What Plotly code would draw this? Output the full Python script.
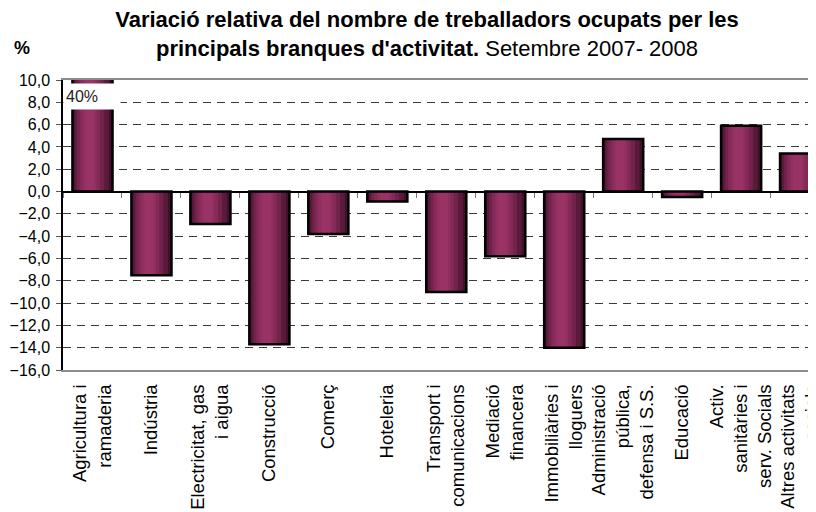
import plotly.graph_objects as go

# categories and values (% change, Sept 2007 - 2008)
branques = [
    "Agricultura i<br>ramaderia", "Indústria", "Electricitat, gas<br>i aigua",
    "Construcció", "Comerç", "Hoteleria", "Transport i<br>comunicacions",
    "Mediació<br>financera", "Immobiliàries i<br>lloguers",
    "Administració<br>pública,<br>defensa i S.S.", "Educació",
    "Activ.<br>sanitàries i<br>serv. Socials", "Altres activitats<br>socials",
]
variacio = [40.0, -7.5, -2.9, -13.7, -3.8, -0.9, -9.0, -5.8, -14.0, 4.7, -0.5, 5.9, 3.4]

y_ticks = [10, 8, 6, 4, 2, 0, -2, -4, -6, -8, -10, -12, -14, -16]

FONT = "Liberation Sans, Arial, sans-serif"

fig = go.Figure()

# layered bars to fake the cylinder shading of the original
layers = [
    (-0.34, 0.68, "#40122a"),
    (-0.31, 0.59, "#5a1a3b"),
    (-0.27, 0.47, "#72234b"),
    (-0.22, 0.35, "#842a57"),
    (-0.17, 0.24, "#912f60"),
    (-0.12, 0.15, "#993366"),
]
for off, wd, col in layers:
    fig.add_trace(go.Bar(
        x=branques, y=variacio, offset=off, width=wd,
        marker=dict(color=col, line=dict(width=0)),
        showlegend=False, hoverinfo="skip",
    ))

# outline on top
fig.add_trace(go.Bar(
    x=branques, y=variacio, offset=-0.34, width=0.68,
    marker=dict(color="rgba(0,0,0,0)", line=dict(color="black", width=2.5)),
    showlegend=False,
))

# invisible trace to carry the tick axis on the zero line
fig.add_trace(go.Scatter(
    x=branques, y=[0] * len(branques), xaxis="x2", mode="markers",
    marker=dict(opacity=0), showlegend=False, hoverinfo="skip",
))

# broken bar label
fig.add_annotation(
    x=branques[0], y=8.5, text="40%", showarrow=False,
    font=dict(family=FONT, size=16, color="#222"),
    bgcolor="white", width=52, height=21, align="left", borderpad=2,
)

fig.add_annotation(
    xref="paper", yref="paper", x=-0.055, y=1.11, xanchor="center", yanchor="middle",
    text="<b>%</b>", showarrow=False, font=dict(family=FONT, size=18, color="black"),
)

# page has an 8px body margin, so the figure is drawn 8px smaller
fig.update_layout(
    width=808, height=504,
    margin=dict(l=55, r=0, t=72, b=142),
    paper_bgcolor="white", plot_bgcolor="white",
    barmode="overlay",
    separators=",.",
    title=dict(
        text="<b>Variació relativa del nombre de treballadors ocupats per les<br>"
             "principals branques d'activitat.</b> Setembre 2007- 2008",
        x=0.5186, xanchor="center", y=0.962, yanchor="top",
        font=dict(family=FONT, size=22, color="black"),
    ),
    xaxis=dict(
        type="category", categoryarray=branques, range=[-0.5, 12.27],
        showline=True, linecolor="#8c8c8c", linewidth=2, mirror=True,
        ticks="", tickangle=-90, automargin=False, ticklabelstandoff=5,
        tickfont=dict(family=FONT, size=18.5, color="black"),
        showgrid=False,
    ),
    xaxis2=dict(
        type="category", categoryarray=branques, range=[-0.5, 12.27],
        overlaying="x", anchor="free", position=16 / 26, side="bottom",
        showline=False, showgrid=False, showticklabels=False,
        ticks="outside", tickson="boundaries", ticklen=5, tickcolor="#777", tickwidth=1,
    ),
    yaxis=dict(
        range=[-16, 10], tickvals=y_ticks, tickformat=".1f",
        showline=True, linecolor="black", linewidth=1.5,
        ticks="outside", ticklen=5, tickcolor="#555", ticklabelstandoff=3,
        showgrid=True, gridcolor="#3a3a3a", gridwidth=1, griddash="8px,6px",
        zeroline=True, zerolinecolor="black", zerolinewidth=1.5,
        tickfont=dict(family=FONT, size=16, color="black"),
        automargin=False,
    ),
)

fig.write_html("out.html")
